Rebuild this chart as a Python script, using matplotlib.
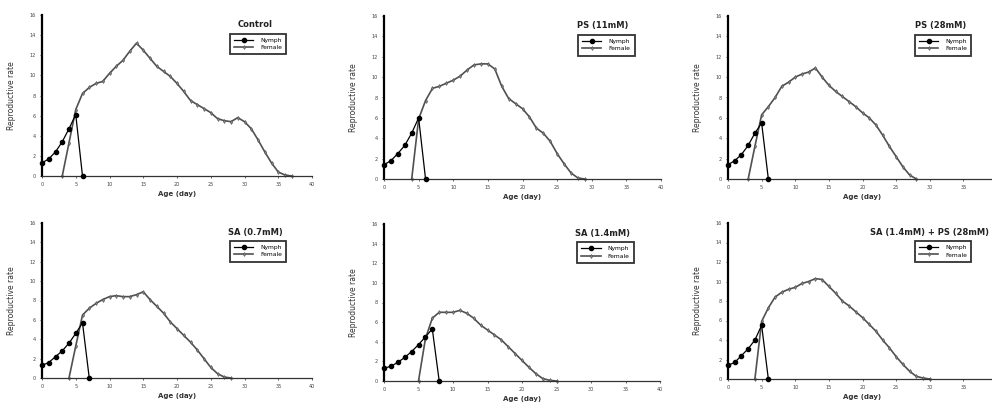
import numpy as np
import matplotlib.pyplot as plt

# nymph stage: day 0 onwards, drops to zero at the last day
nymph_control = [1.3, 1.7, 2.4, 3.4, 4.7, 6.1, 0.0]
nymph_ps11 = [1.4, 1.8, 2.5, 3.3, 4.5, 6.0, 0.0]
nymph_ps28 = [1.4, 1.8, 2.4, 3.3, 4.5, 5.5, 0.0]
nymph_sa07 = [1.3, 1.6, 2.2, 2.8, 3.6, 4.6, 5.7, 0.0]
nymph_sa14 = [1.3, 1.5, 1.9, 2.4, 3.0, 3.7, 4.5, 5.3, 0.0]
nymph_mix = [1.4, 1.7, 2.4, 3.1, 4.0, 5.5, 0.0]

# female stage: (first day, values)
female_control_start = 3
female_control = [0.0, 3.3, 6.6, 8.2, 8.8, 9.2, 9.4, 10.2, 10.9, 11.5, 12.4, 13.2,
                  12.5, 11.7, 10.9, 10.4, 9.9, 9.2, 8.4, 7.5, 7.1, 6.7, 6.3, 5.7,
                  5.5, 5.4, 5.8, 5.4, 4.7, 3.6, 2.4, 1.3, 0.4, 0.1, 0.0]
female_ps11_start = 4
female_ps11 = [0.0, 5.9, 7.7, 8.9, 9.1, 9.4, 9.7, 10.1, 10.7, 11.2, 11.3, 11.3,
               10.8, 9.1, 7.9, 7.4, 6.9, 6.1, 5.0, 4.5, 3.7, 2.5, 1.5, 0.6, 0.1, 0.0]
female_ps28_start = 3
female_ps28 = [0.0, 3.2, 6.3, 7.1, 8.0, 9.1, 9.5, 10.0, 10.3, 10.5, 10.9, 10.0,
               9.2, 8.6, 8.1, 7.6, 7.1, 6.5, 6.0, 5.3, 4.3, 3.2, 2.2, 1.2, 0.4, 0.0]
female_sa07_start = 4
female_sa07 = [0.0, 3.3, 6.5, 7.2, 7.7, 8.1, 8.4, 8.5, 8.4, 8.4, 8.6, 8.9, 8.1,
               7.4, 6.7, 5.8, 5.1, 4.4, 3.7, 2.9, 2.0, 1.1, 0.45, 0.1, 0.0]
female_sa14_start = 5
female_sa14 = [0.0, 4.3, 6.4, 7.0, 7.0, 7.0, 7.2, 6.9, 6.4, 5.7, 5.2, 4.7, 4.2,
               3.5, 2.8, 2.1, 1.4, 0.75, 0.25, 0.07, 0.0]
female_mix_start = 4
female_mix = [0.0, 5.9, 7.3, 8.4, 8.9, 9.2, 9.4, 9.8, 10.0, 10.3, 10.2, 9.5, 8.8,
              8.0, 7.5, 6.9, 6.3, 5.6, 4.9, 4.0, 3.2, 2.3, 1.5, 0.8, 0.27, 0.1, 0.0]

titles = ["Control", "PS (11mM)", "PS (28mM)",
          "SA (0.7mM)", "SA (1.4mM)", "SA (1.4mM) + PS (28mM)"]
nymphs = [nymph_control, nymph_ps11, nymph_ps28, nymph_sa07, nymph_sa14, nymph_mix]
females = [(female_control_start, female_control), (female_ps11_start, female_ps11),
           (female_ps28_start, female_ps28), (female_sa07_start, female_sa07),
           (female_sa14_start, female_sa14), (female_mix_start, female_mix)]
x_ticks_full = [0, 5, 10, 15, 20, 25, 30, 35, 40]
x_ticks_edge = [0, 5, 10, 15, 20, 25, 30, 35]

W, H = 992, 409
# axes boxes in pixels: left, top, right, bottom
boxes = [(42, 15, 312, 176), (384, 16, 661, 179), (728, 16, 997, 179),
         (42, 223, 312, 378), (384, 224, 660, 381), (728, 223, 997, 379)]

fig = plt.figure(figsize=(W / 100, H / 100), dpi=100)

for i, (box, title, ny, (fs, fv)) in enumerate(zip(boxes, titles, nymphs, females)):
    l, t, r, b = box
    ax = fig.add_axes([l / W, 1 - b / H, (r - l) / W, (b - t) / H])
    ax.set_xlim(0, 40)
    ax.set_ylim(0, 16)
    ax.spines["top"].set_visible(False)
    ax.spines["right"].set_visible(False)
    ax.spines["left"].set_linewidth(1.6)
    ax.spines["bottom"].set_linewidth(0.9)
    ax.spines["bottom"].set_color("#333333")
    # right column runs off the edge of the figure
    ax.set_xticks(x_ticks_edge if i % 3 == 2 else x_ticks_full)
    ax.set_yticks(np.arange(0, 17, 2))
    ax.tick_params(labelsize=3.5, length=1.5, width=0.6, colors="#444444",
                   pad=3)

    fx = np.arange(fs, fs + len(fv))
    ax.plot(fx, fv, color="#505050", lw=1.2, marker="d", ms=2,
            mfc="#888888", mec="#505050", mew=0.4, clip_on=False,
            label="Female", zorder=2)
    nx = np.arange(len(ny))
    ax.plot(nx, ny, color="black", lw=0.9, marker="o", ms=3,
            clip_on=False, label="Nymph", zorder=3)

    if i == 5:
        ax.text(0.97, 0.94, title, transform=ax.transAxes, ha="right",
                va="center", fontsize=6, fontweight="bold", color="#222222")
    else:
        ax.text(0.79, 0.94, title, transform=ax.transAxes, ha="center",
                va="center", fontsize=6, fontweight="bold", color="#222222")
    h, lab = ax.get_legend_handles_labels()
    leg = ax.legend(h[::-1], lab[::-1], loc="upper right",
                    bbox_to_anchor=(0.905, 0.885), fontsize=4.3, frameon=True,
                    fancybox=False, edgecolor="black", handlelength=3.2,
                    borderpad=0.7, labelspacing=0.35, handletextpad=1.2,
                    borderaxespad=0)
    leg.get_frame().set_linewidth(1.3)
    ax.set_xlabel("Age (day)", fontsize=5, fontweight="bold", labelpad=3,
                  color="#333333")
    ax.set_ylabel("Reproductive rate", fontsize=5.5, labelpad=10,
                  color="#333333")

fig.savefig("out.png", dpi=100)
